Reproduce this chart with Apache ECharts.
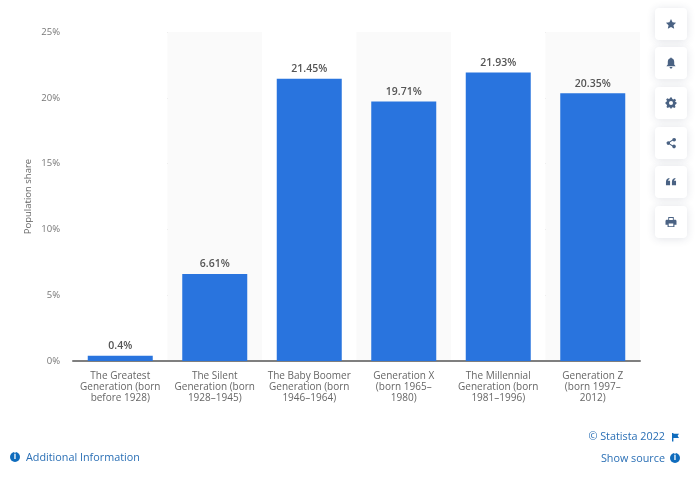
<!DOCTYPE html>
<html>
<head>
<meta charset="utf-8">
<style>
  html, body { margin: 0; padding: 0; background: #fff; }
  #chart { width: 698px; height: 482px; }
</style>
<script src="https://cdn.jsdelivr.net/npm/echarts@6/dist/echarts.min.js"></script>
</head>
<body>
<div id="chart"></div>
<script>
const categories = [
  'The Greatest\nGeneration (born\nbefore 1928)',
  'The Silent\nGeneration (born\n1928–1945)',
  'The Baby Boomer\nGeneration (born\n1946–1964)',
  'Generation X\n(born 1965–\n1980)',
  'The Millennial\nGeneration (born\n1981–1996)',
  'Generation Z\n(born 1997–\n2012)'
]
const shares = [0.4, 6.61, 21.45, 19.71, 21.93, 20.35]

const FONT = '"Open Sans", "Noto Sans", sans-serif'
const LINK = '#2a6fb5'
const ICON = '#4a6283'

// icons are drawn in a 24x24 box
const iconPaths = [
  // star
  'M12 1 L15.4 8.2 L23 9.2 L17.4 14.6 L18.9 22.5 L12 18.6 L5.1 22.5 L6.6 14.6 L1 9.2 L8.6 8.2 Z',
  // bell
  'M12 0 C13 0 13.6 0.8 13.6 1.8 C17.4 2.8 19 6 19 10 L19 15 L22 19 L2 19 L5 15 L5 10 C5 6 6.6 2.8 10.4 1.8 C10.4 0.8 11 0 12 0 Z M9 20.5 L15 20.5 C15 22.5 13.6 24 12 24 C10.4 24 9 22.5 9 20.5 Z',
  // gear
  'M10 0 L14 0 L14.8 3.2 L17.4 4.3 L20.4 2.7 L23 6 L21 8.6 L21.8 10 L24 10.6 L24 13.6 L21.6 15.2 L20.6 17.8 L22 20.6 L19 23 L16.4 21 L14 22 L13.4 24 L10.6 24 L10 22 L7.6 21 L5 23 L2 20.6 L3.4 17.8 L2.4 15.2 L0 13.6 L0 10.6 L2.4 9 L3 6.4 L1.4 3.6 L4.6 1.4 L7 3.2 L9.4 2.4 Z M12 7.6 A4.4 4.4 0 1 0 12.01 7.6 Z',
  // share
  'M19 1 A4 4 0 1 1 15.6 7.2 L9.8 10.6 A4 4 0 0 1 9.8 13.4 L15.6 16.8 A4 4 0 1 1 14.6 19 L8.4 15.4 A4 4 0 1 1 8.4 8.6 L14.6 5 A4 4 0 0 1 19 1 Z',
  // quotes
  'M1 12 C1 7 3.5 4 8 3 L9 5.4 C6.8 6.2 5.8 7.6 5.6 9.4 L10 9.4 L10 19 L1 19 Z M14 12 C14 7 16.5 4 21 3 L22 5.4 C19.8 6.2 18.8 7.6 18.6 9.4 L23 9.4 L23 19 L14 19 Z',
  // printer
  'M6 1 L18 1 L18 7 L21 7 C22.8 7 24 8.2 24 10 L24 18 L19.5 18 L19.5 23 L4.5 23 L4.5 18 L0 18 L0 10 C0 8.2 1.2 7 3 7 L6 7 Z M8 3 L8 7.5 L16 7.5 L16 3 Z M7 15 L7 21 L17 21 L17 15 Z'
]
const flagPath = 'M0 0 L2 0 L2 1 L10 1 L8 4 L10 7 L2 7 L2 12 L0 12 Z'
const buttonTops = [8, 47, 87, 127, 166, 206]

iconPaths.forEach((d, i) => {
  echarts.graphic.registerShape('icon' + i, echarts.graphic.extendPath(d, {}))
})
echarts.graphic.registerShape('flag', echarts.graphic.extendPath(flagPath, {}))

const buttons = buttonTops.flatMap((top, i) => [
  {
    type: 'rect',
    shape: { x: 655, y: top, width: 32, height: 32, r: 4 },
    style: { fill: '#fff', shadowBlur: 8, shadowColor: 'rgba(40, 60, 90, 0.14)', shadowOffsetY: 1 }
  },
  {
    type: 'icon' + i,
    x: 665.5,
    y: top + 10.5,
    scaleX: 11 / 24,
    scaleY: 11 / 24,
    style: { fill: ICON }
  }
])

function footerText(x, y, text, align) {
  return {
    type: 'text', x, y,
    style: { text, fill: LINK, font: '10.8px ' + FONT, textAlign: align, textVerticalAlign: 'middle' }
  }
}

function infoDot(cx, cy) {
  return [
    { type: 'circle', shape: { cx, cy, r: 5 }, style: { fill: '#0f6cbd' } },
    { type: 'text', x: cx, y: cy, style: { text: 'i', fill: '#fff', font: 'bold 8px ' + FONT, textAlign: 'center', textVerticalAlign: 'middle' } }
  ]
}

const chart = echarts.init(document.getElementById('chart'), null, { renderer: 'canvas' })

chart.setOption({
  animation: false,
  backgroundColor: '#fff',
  textStyle: { fontFamily: FONT },
  grid: { left: 73, right: 58, top: 32, bottom: 121 },
  xAxis: {
    type: 'category',
    data: categories,
    axisTick: { show: false },
    axisLine: { lineStyle: { color: '#7f7f7f', width: 2 } },
    axisLabel: { color: '#666', fontSize: 10, lineHeight: 11, margin: 10, interval: 0 },
    splitArea: { show: true, areaStyle: { color: ['#ffffff', '#fafafa'] } }
  },
  yAxis: {
    type: 'value',
    min: 0,
    max: 25,
    interval: 5,
    name: 'Population share',
    nameLocation: 'middle',
    nameGap: 40,
    nameMoveOverlap: false,
    nameTextStyle: { color: '#666', fontSize: 9.5 },
    axisLine: { show: false },
    axisTick: { show: false },
    axisLabel: { color: '#777', fontSize: 9.5, margin: 13, formatter: '{value}%' },
    splitLine: { lineStyle: { color: '#c4c4c4', type: 'dotted', width: 1 } }
  },
  series: [{
    type: 'bar',
    data: shares,
    barWidth: 65,
    itemStyle: { color: '#2974de' },
    label: {
      show: true,
      position: 'top',
      distance: 4,
      color: '#555',
      fontSize: 10.5,
      fontWeight: 600,
      formatter: p => p.value + '%'
    }
  }],
  graphic: {
    elements: [
      ...buttons,
      ...infoDot(15, 457),
      footerText(26, 458, 'Additional Information', 'left'),
      footerText(665, 437, '© Statista 2022', 'right'),
      {
        type: 'flag',
        x: 672,
        y: 433,
        scaleX: 0.7,
        scaleY: 0.7,
        style: { fill: '#0f6cbd' }
      },
      footerText(665, 459, 'Show source', 'right'),
      ...infoDot(675, 458)
    ]
  }
})
</script>
</body>
</html>
